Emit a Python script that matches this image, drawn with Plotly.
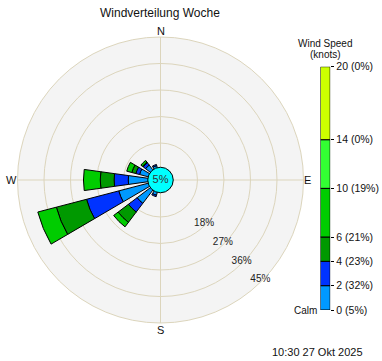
import math
import plotly.graph_objects as go

# ---------------- data ----------------
directions = ["N", "NNE", "NE", "ENE", "E", "ESE", "SE", "SSE",
              "S", "SSW", "SW", "WSW", "W", "WNW", "NW", "NNW"]
dir_angles = [i * 22.5 for i in range(16)]

# frequency (%) per direction for each speed class (knots)
s0_2   = [0, 0, 0, 0, 0, 0, 0, 0, 0, 1.8, 6.4, 11.1, 7.4, 3.8, 2.8, 1.5]
s2_4   = [0, 0, 0, 0, 0, 0, 0, 0, 0, 0.5, 3.7, 11.3, 4.8, 1.3, 1.0, 0.4]
s4_6   = [0, 0, 0, 0, 0, 0, 0, 0, 0, 0.0, 4.4, 10.6, 4.7, 1.4, 0.3, 0.0]
s6_10  = [0, 0, 0, 0, 0, 0, 0, 0, 0, 0.0, 1.9, 6.5, 5.7, 1.8, 0.7, 0.0]
s10_14 = [0] * 16
s14_20 = [0] * 16
classes = [s0_2, s2_4, s4_6, s6_10, s10_14, s14_20]

calm_pct = 5
speed_bins = [0, 2, 4, 6, 10, 14, 20]
class_pct = [5, 32, 23, 21, 19, 0, 0]   # label at each bin edge (first = calm)

ring_vals = [9, 18, 27, 36, 45]
ring_labels = [18, 27, 36, 45]
compass_labels = ["N", "E", "S", "W"]
compass_angles = [0, 90, 180, 270]

title = "Windverteilung Woche"
timestamp = "10:30 27 Okt 2025"

# ---------------- style ----------------
colors = ["#0099ff", "#0033ff", "#009900", "#00cc00", "#33ff33", "#ccff00"]
calm_color = "#00ffff"
grid_col = "#dcd5bc"
FONT = "Liberation Sans, Arial, sans-serif"
W, H = 382, 361
r0 = -3.55                    # radial value at the centre (hollow centre for calm)
rmax = 45

cx0, cx1 = 17.5, 303.5        # polar square in pixels
cy0, cy1 = 37, 323
CX, CY = (cx0 + cx1) / 2, (cy0 + cy1) / 2
compass_r = [149, 146.5, 150, 149]   # pixel radius of compass labels


def px(x):
    return x / W


def py(y):
    return 1 - y / H


fig = go.Figure()

# wind rose bars
cum = [0.0] * 16
for vals, col in zip(classes, colors):
    th, rr, bb = [], [], []
    for i in range(16):
        if vals[i] > 0:
            th.append(dir_angles[i]); rr.append(vals[i]); bb.append(cum[i])
        cum[i] += vals[i]
    if rr:
        fig.add_trace(go.Barpolar(
            r=rr, theta=th, base=bb, width=15.75,
            marker=dict(color=col, line=dict(color="black", width=1)),
            showlegend=False, hoverinfo="skip"))

# calm circle
fig.add_trace(go.Scatterpolar(
    r=[r0], theta=[0], mode="markers+text",
    marker=dict(size=25.5, color=calm_color, line=dict(color="black", width=1)),
    text=[f"{calm_pct}%"], textposition="middle center",
    textfont=dict(family=FONT, size=11, color="#333333"),
    cliponaxis=False, showlegend=False, hoverinfo="skip"))

# ring labels
fig.add_trace(go.Scatterpolar(
    r=[v - 0.6 for v in ring_labels], theta=[135] * len(ring_labels),
    mode="text", text=[f"{v}%" for v in ring_labels],
    textfont=dict(family=FONT, size=10, color="#222222"),
    cliponaxis=False, showlegend=False, hoverinfo="skip"))

# key (colour scale)
fig.add_trace(go.Bar(
    x=[0] * 6, y=[speed_bins[i + 1] - speed_bins[i] for i in range(6)],
    base=speed_bins[:-1], width=1,
    marker=dict(color=colors, line=dict(color="black", width=1)),
    xaxis="x", yaxis="y", showlegend=False, hoverinfo="skip"))
fig.add_trace(go.Scatter(
    x=[0], y=[-0.45], mode="markers",
    marker=dict(size=12, color=calm_color, line=dict(color="black", width=1)),
    cliponaxis=False, xaxis="x", yaxis="y", showlegend=False, hoverinfo="skip"))


def txt(text, x, y, size, xanchor="center"):
    return dict(text=text, x=px(x), y=py(y), xref="paper", yref="paper",
                xanchor=xanchor, yanchor="middle", showarrow=False,
                font=dict(family=FONT, size=size, color="#111111"))


compass_ann = [txt(lab, CX + rr * math.sin(math.radians(a)),
                   CY - rr * math.cos(math.radians(a)), 11)
               for lab, a, rr in zip(compass_labels, compass_angles, compass_r)]

fig.update_layout(
    template="none",
    width=W, height=H,
    margin=dict(l=0, r=0, t=0, b=0, pad=0, autoexpand=False),
    paper_bgcolor="white", plot_bgcolor="white",
    barmode="overlay", showlegend=False,
    polar=dict(
        domain=dict(x=[px(cx0), px(cx1)], y=[py(cy1), py(cy0)]),
        bgcolor="#f4f4f4", barmode="overlay",
        radialaxis=dict(range=[r0, rmax], tickvals=ring_vals, showticklabels=False,
                        ticks="", showline=False, gridcolor=grid_col, gridwidth=1),
        angularaxis=dict(direction="clockwise", rotation=90,
                         tickvals=compass_angles, showticklabels=False, ticks="",
                         gridcolor=grid_col, linecolor=grid_col, linewidth=1),
    ),
    xaxis=dict(domain=[px(320.5), px(330.2)], range=[-0.5, 0.5], visible=False,
               fixedrange=True, automargin=False),
    yaxis=dict(domain=[py(310), py(66.7)], range=[0, 20], side="right",
               tickvals=speed_bins,
               ticktext=[f"{b} ({p}%)" for b, p in zip(speed_bins, class_pct)],
               ticks="outside", ticklen=3, tickcolor="black", tickwidth=1,
               showgrid=False, zeroline=False, showline=False, automargin=False,
               tickfont=dict(family=FONT, size=10.5, color="#111111"),
               anchor="x", fixedrange=True),
    annotations=[
        txt(title, 160, 13.5, 12),
        txt("Wind Speed", 325, 44, 10),
        txt("(knots)", 325, 55, 10),
        dict(text="Calm", x=0, y=0, xref="x domain", yref="y", xanchor="right",
             yanchor="middle", xshift=-2, showarrow=False,
             font=dict(family=FONT, size=10, color="#111111")),
        txt(timestamp, 365, 351.5, 11, xanchor="right"),
    ] + compass_ann,
)

fig.write_html("out.html", config={"displayModeBar": False},
               post_script="document.body.style.margin='0';"
                           "document.documentElement.style.overflow='hidden';")
